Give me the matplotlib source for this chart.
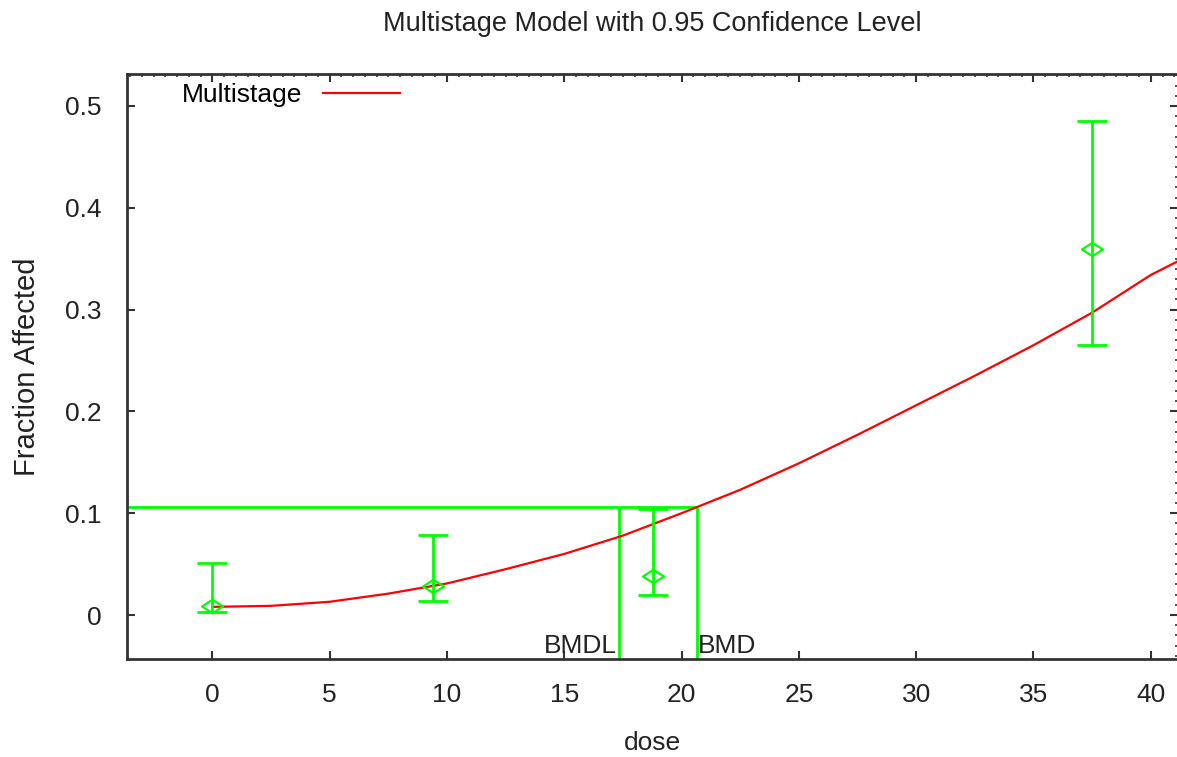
import numpy as np
import matplotlib
matplotlib.use("Agg")
import matplotlib.pyplot as plt
from matplotlib.path import Path

plt.rcParams['font.family'] = ['Liberation Sans', 'DejaVu Sans']

# observed dose groups with 95% confidence limits
dose = [0, 9.4, 18.8, 37.5]
frac_obs = [0.0088, 0.0285, 0.0386, 0.3595]
ci_lower = [0.0032, 0.0135, 0.0194, 0.2652]
ci_upper = [0.0508, 0.0783, 0.1040, 0.4853]

# fitted multistage curve
curve_dose = [0, 2.5, 5, 7.5, 10, 12.5, 15, 17.5, 20, 22.5, 25, 27.5, 30,
              32.5, 35, 37.5, 40, 41.2]
curve_frac = [0.008, 0.009, 0.013, 0.021, 0.031, 0.045, 0.060, 0.078, 0.100,
              0.123, 0.149, 0.177, 0.206, 0.235, 0.265, 0.297, 0.334, 0.348]

# benchmark dose results
bmr_level = 0.1058
bmd = 20.64
bmdl = 17.33

x_ticks = [0, 5, 10, 15, 20, 25, 30, 35, 40]
y_ticks = [0, 0.1, 0.2, 0.3, 0.4, 0.5]
y_labels = ['0', '0.1', '0.2', '0.3', '0.4', '0.5']

GREEN = '#00ff00'
RED = '#ff0000'
INK = '#222222'
FS = 19

W, H = 1177, 757
fig = plt.figure(figsize=(W / 100, H / 100), dpi=100)
ax = fig.add_axes([126.7 / W, 1 - 659.3 / H, 1051.3 / W, (659.3 - 74) / H])
xlim = (-3.65, 41.16)
ylim = (-0.0435, 0.5314)
ax.set_xlim(*xlim)
ax.set_ylim(*ylim)

# flat open diamond like the gnuplot point type
diamond = Path([(-1, 0), (0, 0.65), (1, 0), (0, -0.65), (-1, 0)],
               [Path.MOVETO, Path.LINETO, Path.LINETO, Path.LINETO, Path.CLOSEPOLY])

ax.plot(curve_dose, curve_frac, color=RED, lw=1.6, zorder=3, label='Multistage')

yerr = [np.subtract(frac_obs, ci_lower), np.subtract(ci_upper, frac_obs)]
ax.errorbar(dose, frac_obs, yerr=yerr, fmt='none', ecolor=GREEN,
            elinewidth=2, capsize=11, capthick=2, zorder=4)
ax.plot(dose, frac_obs, linestyle='none', marker=diamond, markersize=15,
        markerfacecolor='none', markeredgecolor=GREEN, markeredgewidth=1.6,
        zorder=5)

ax.hlines(bmr_level, xlim[0], bmd, color=GREEN, lw=2, zorder=2)
ax.vlines([bmdl, bmd], ylim[0], bmr_level, color=GREEN, lw=2, zorder=2)

trans = ax.get_xaxis_transform()
ax.text(bmdl - 0.1, 0.011, 'BMDL', transform=trans, ha='right', va='baseline',
        fontsize=FS, color=INK)
ax.text(bmd + 0.05, 0.011, 'BMD', transform=trans, ha='left', va='baseline',
        fontsize=FS, color=INK)

ax.set_xticks(x_ticks)
ax.set_xticklabels([str(t) for t in x_ticks])
ax.set_yticks(y_ticks)
ax.set_yticklabels(y_labels)
ax.set_xticks(np.arange(-3.5, 41.2, 0.5), minor=True)
ax.set_yticks(np.arange(-0.04, 0.531, 0.01), minor=True)
ax.tick_params(which='major', direction='in', length=6, width=1.5,
               top=True, right=True, labelsize=FS, labelcolor=INK,
               color='#333333')
ax.tick_params(axis='x', which='major', pad=17)
ax.tick_params(axis='y', which='major', pad=18)
ax.tick_params(which='minor', direction='in', length=2.5, width=1.2,
               bottom=False, left=False, top=True, right=True, color='#333333')

for s in ax.spines.values():
    s.set_linewidth(2)
    s.set_color('#333333')

ax.set_title('Multistage Model with 0.95 Confidence Level', fontsize=FS + 0.5,
             color=INK, pad=31)
ax.set_xlabel('dose', fontsize=FS, color=INK, labelpad=17)
ax.set_ylabel('Fraction Affected', fontsize=FS + 2, color=INK, labelpad=17)

ax.legend(loc='center left', bbox_to_anchor=(0.0527, 1 - 0.0359),
          frameon=False, markerfirst=False, fontsize=FS, handlelength=2.95,
          handletextpad=0.76, borderpad=0, borderaxespad=0)

fig.savefig('out.png', dpi=100)
